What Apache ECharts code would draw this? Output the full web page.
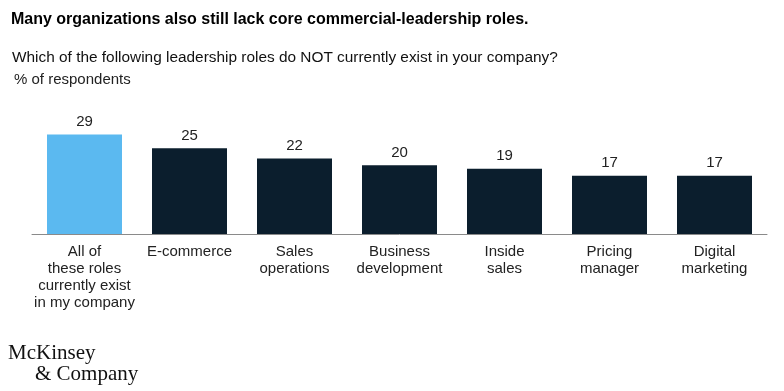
<!DOCTYPE html>
<html>
<head>
<meta charset="utf-8">
<script src="https://cdn.jsdelivr.net/npm/echarts@6/dist/echarts.min.js"></script>
<style>html,body{margin:0;padding:0;background:#fff}#c{width:784px;height:391px}</style>
</head>
<body>
<div id="c"></div>
<script>
const categories = ["All of\nthese roles\ncurrently exist\nin my company", "E-commerce", "Sales\noperations", "Business\ndevelopment", "Inside\nsales", "Pricing\nmanager", "Digital\nmarketing"];
const values = [29, 25, 22, 20, 19, 17, 17];
const barColors = ["#5bb9f0", "#0b1e2d", "#0b1e2d", "#0b1e2d", "#0b1e2d", "#0b1e2d", "#0b1e2d"];
const titleText = "Many organizations also still lack core commercial-leadership roles.";
const subtitleText = "Which of the following leadership roles do NOT currently exist in your company?";
const unitText = "% of respondents";

const font = "'Liberation Sans', Arial, sans-serif";
const chart = echarts.init(document.getElementById('c'), null, {renderer: 'canvas'});
chart.setOption({
  animation: false,
  backgroundColor: '#ffffff',
  title: [
    {text: titleText, left: 11, top: 12, padding: 0, textStyle: {fontFamily: font, fontSize: 16, fontWeight: 'bold', color: '#000'}},
    {text: subtitleText, left: 12, top: 50, padding: 0, textStyle: {fontFamily: font, fontSize: 15.4, fontWeight: 'normal', color: '#111'}},
    {text: unitText, left: 14, top: 72, padding: 0, textStyle: {fontFamily: font, fontSize: 15, fontWeight: 'normal', color: '#222'}}
  ],
  graphic: [
    {type: 'text', left: 8, top: 343, style: {text: 'McKinsey', font: "21px 'Liberation Serif', 'DejaVu Serif', serif", fill: '#111'}},
    {type: 'text', left: 35, top: 364, style: {text: '& Company', font: "21px 'Liberation Serif', 'DejaVu Serif', serif", fill: '#111'}}
  ],
  grid: {left: 32, right: 17, top: 131, bottom: 157, containLabel: false},
  xAxis: {
    type: 'category',
    data: categories,
    axisTick: {show: false},
    axisLine: {lineStyle: {color: '#8a8a8a', width: 1}},
    axisLabel: {interval: 0, margin: 9, fontFamily: font, fontSize: 15, color: '#222', lineHeight: 17}
  },
  yAxis: {type: 'value', min: 0, max: 30, show: false, splitLine: {show: false}},
  series: [{
    type: 'bar',
    barWidth: 75,
    data: values.map((v, i) => ({value: v, itemStyle: {color: barColors[i]}})),
    label: {show: true, position: 'top', distance: 5, fontFamily: font, fontSize: 15, color: '#222'}
  }]
});
</script>
</body>
</html>
